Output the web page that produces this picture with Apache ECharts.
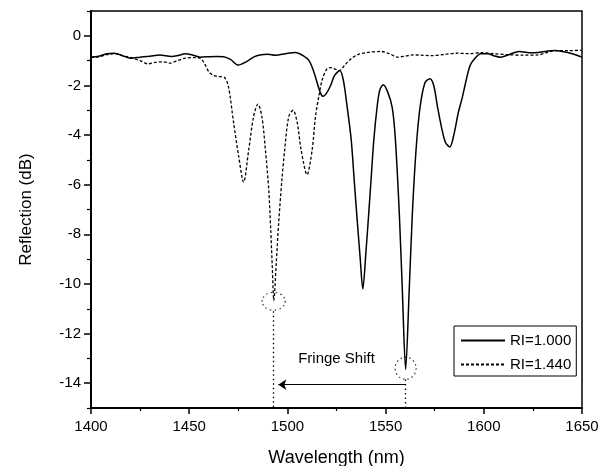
<!DOCTYPE html>
<html>
<head>
<meta charset="utf-8">
<script src="https://cdn.jsdelivr.net/npm/echarts@6/dist/echarts.min.js"></script>
<style>
html,body{margin:0;padding:0;background:#fff;}
#chart{width:599px;height:466px;}
</style>
</head>
<body>
<div id="chart"></div>
<script>
// ---- Data ----
const ri1000_wl = [
  1400,1404,1408,1412,1416,1420,1425,1430,1435,1441,
  1445,1448,1452,1455.6,1460,1464,1467.5,1471,1475,1479,
  1483,1486,1490,1494,1499,1504,1508,1511,1513,1515,
  1516.8,1518.2,1520,1522,1524,1526.7,1528.5,1530.4,1532.5,1534,
  1535.5,1537,1538.4,1540,1541.2,1542.6,1544,1545.7,1547,1548.8,
  1551,1553.4,1555,1557,1558.5,1560.2,1562,1563.6,1565.5,1567.5,
  1570,1572.5,1574.5,1576.4,1578.5,1580.5,1582.7,1585,1587,1589,
  1591,1593,1595,1598.5,1602,1605,1608.5,1613,1618,1623,
  1627.6,1632,1636,1640,1645,1650
];
const ri1000_db = [
  -0.85,-0.82,-0.72,-0.70,-0.80,-0.90,-0.86,-0.82,-0.77,-0.83,
  -0.78,-0.72,-0.78,-0.86,-0.84,-0.83,-0.84,-0.95,-1.18,-1.05,
  -0.85,-0.77,-0.74,-0.78,-0.72,-0.67,-0.80,-1.00,-1.35,-1.85,
  -2.30,-2.44,-2.30,-2.00,-1.60,-1.40,-1.80,-2.85,-4.20,-5.80,
  -7.40,-8.90,-10.20,-8.70,-7.40,-5.80,-4.20,-2.85,-2.20,-1.97,
  -2.25,-2.90,-4.20,-7.20,-10.20,-13.45,-10.30,-7.20,-4.60,-2.90,
  -1.90,-1.73,-2.00,-2.85,-3.70,-4.30,-4.48,-3.90,-3.10,-2.50,
  -1.80,-1.20,-0.95,-0.72,-0.72,-0.80,-0.86,-0.75,-0.63,-0.68,
  -0.67,-0.62,-0.59,-0.63,-0.72,-0.86
];
const ri1440_wl = [
  1400,1404,1408,1412,1416,1420,1425,1429,1433.5,1437,
  1440,1444,1448,1452,1455.6,1458,1460,1462.4,1465,1468,
  1470,1472.6,1475.2,1477.7,1480.3,1482.8,1485,1487,1488.8,1490.5,
  1491.5,1492.3,1493.1,1494.3,1495.5,1497.2,1498.6,1500.7,1502.9,1505,
  1507,1510,1512.6,1514.3,1516,1517.7,1520,1522,1524,1526.5,
  1529,1532,1535.5,1540,1547.5,1552,1556,1560,1564,1568,
  1573,1580,1586.6,1592,1598.5,1605,1612,1620,1627.6,1632,
  1636,1643,1650
];
const ri1440_db = [
  -0.87,-0.85,-0.76,-0.72,-0.80,-0.87,-1.00,-1.13,-1.06,-1.05,
  -1.10,-1.00,-0.90,-0.88,-0.90,-1.15,-1.45,-1.60,-1.64,-1.68,
  -2.05,-3.50,-4.86,-5.90,-4.60,-3.25,-2.75,-3.25,-4.60,-6.20,
  -7.80,-9.30,-10.67,-9.20,-7.60,-5.80,-4.60,-3.25,-3.00,-3.50,
  -4.60,-5.60,-4.60,-3.25,-2.44,-1.77,-1.35,-1.28,-1.33,-1.40,
  -1.20,-0.95,-0.77,-0.68,-0.63,-0.72,-0.86,-0.82,-0.77,-0.78,
  -0.80,-0.75,-0.70,-0.72,-0.68,-0.72,-0.76,-0.78,-0.77,-0.68,
  -0.60,-0.60,-0.58
];
const seriesNames = ['RI=1.000', 'RI=1.440'];
const yMajorTicks = [-14,-12,-10,-8,-6,-4,-2,0];
const yMinorTicks = [-15,-13,-11,-9,-7,-5,-3,-1,1];
// annotation values
const dipShifted = [1493, -10.7];   // RI=1.440 main dip
const dipOriginal = [1560.2, -13.4]; // RI=1.000 main dip
const arrowLevel = -14.06;
const shiftLabel = 'Fringe Shift';
const shiftLabelPos = [1525, -13.0];

const FONT = 'Liberation Sans, Arial, Helvetica, sans-serif';
const chart = echarts.init(document.getElementById('chart'), null, {renderer: 'canvas'});

const d1000 = ri1000_wl.map((w, i) => [w, ri1000_db[i]]);
const d1440 = ri1440_wl.map((w, i) => [w, ri1440_db[i]]);

const option = {
  animation: false,
  backgroundColor: '#fff',
  grid: {left: 91, right: 17, top: 11, bottom: 58, containLabel: false, outerBoundsMode: 'none',
         show: true, borderColor: '#000', borderWidth: 1.5, backgroundColor: 'transparent'},
  legend: {
    data: seriesNames,
    orient: 'vertical',
    left: 454, top: 326,
    itemWidth: 44, itemHeight: 14, itemGap: 9,
    padding: [7, 5, 4, 6],
    borderColor: '#000', borderWidth: 1, borderRadius: 0,
    backgroundColor: '#fff',
    selectedMode: false,
    itemStyle: {opacity: 0},
    lineStyle: {opacity: 1},
    textStyle: {fontSize: 15, color: '#000', fontFamily: FONT}
  },
  xAxis: {
    type: 'value', min: 1400, max: 1650, interval: 50,
    name: 'Wavelength (nm)', nameLocation: 'middle', nameGap: 41,
    nameTextStyle: {fontSize: 18, color: '#000', fontFamily: FONT},
    axisLine: {onZero: false, lineStyle: {color: '#000', width: 2}},
    axisTick: {show: true, inside: false, length: 6, lineStyle: {color: '#000', width: 1.5}},
    minorTick: {show: true, splitNumber: 2, length: 3, lineStyle: {color: '#000', width: 1.2}},
    axisLabel: {fontSize: 15, color: '#000', margin: 11, fontFamily: FONT, formatter: v => String(v)},
    splitLine: {show: false}, minorSplitLine: {show: false}
  },
  yAxis: [{
    type: 'value', min: -15, max: 1,
    name: 'Reflection (dB)', nameLocation: 'middle', nameGap: 56,
    nameTextStyle: {fontSize: 17, color: '#000', fontFamily: FONT},
    axisLine: {show: true, onZero: false, lineStyle: {color: '#000', width: 2}},
    axisTick: {show: true, length: 7, customValues: yMajorTicks, lineStyle: {color: '#000', width: 1.5}},
    axisLabel: {customValues: yMajorTicks, fontSize: 15, color: '#000', margin: 10, fontFamily: FONT, formatter: v => String(v)},
    splitLine: {show: false}
  }, {
    type: 'value', min: -15, max: 1, position: 'left', offset: 0,
    axisLine: {show: false},
    axisTick: {show: true, length: 4, customValues: yMinorTicks, lineStyle: {color: '#000', width: 1.2}},
    axisLabel: {show: false},
    splitLine: {show: false}
  }],
  series: [
    {
      name: seriesNames[0], type: 'line', data: d1000, symbol: 'none', smooth: 0.3,
      lineStyle: {color: '#000', width: 1.5}, itemStyle: {color: '#000'}, z: 3
    },
    {
      name: seriesNames[1], type: 'line', data: d1440, symbol: 'none', smooth: 0.3,
      lineStyle: {color: '#000', width: 1.3, type: [3, 2]}, itemStyle: {color: '#000'}, z: 2
    },
    {
      name: 'annot', type: 'scatter', silent: true, z: 4,
      data: [
        {value: dipShifted, symbolSize: [23, 18]},
        {value: dipOriginal, symbolSize: [21, 22]}
      ],
      symbol: 'circle',
      itemStyle: {color: 'rgba(0,0,0,0)', borderColor: '#000', borderWidth: 1.2, borderType: [1.5, 3]},
      markLine: {
        silent: true, animation: false,
        symbol: ['none', 'none'],
        label: {show: false},
        data: [
          [{coord: [dipShifted[0], -11.1], lineStyle: {type: [1.5, 3], width: 1.3, color: '#000'}},
           {coord: [dipShifted[0], -15]}],
          [{coord: [dipOriginal[0], -13.85], lineStyle: {type: [1.5, 3], width: 1.3, color: '#000'}},
           {coord: [dipOriginal[0], -15]}],
          [{coord: [dipOriginal[0], arrowLevel], symbol: 'none', lineStyle: {type: 'solid', width: 1, color: '#000'}},
           {coord: [dipShifted[0] + 2.4, arrowLevel], symbol: 'arrow', symbolSize: 8}]
        ]
      },
      markPoint: {
        silent: true, animation: false,
        symbol: 'circle', symbolSize: 0,
        data: [{coord: shiftLabelPos, value: shiftLabel}],
        label: {show: true, position: 'inside', formatter: shiftLabel, color: '#000', fontSize: 15, fontFamily: FONT}
      }
    }
  ]
};
chart.setOption(option);
</script>
</body>
</html>
